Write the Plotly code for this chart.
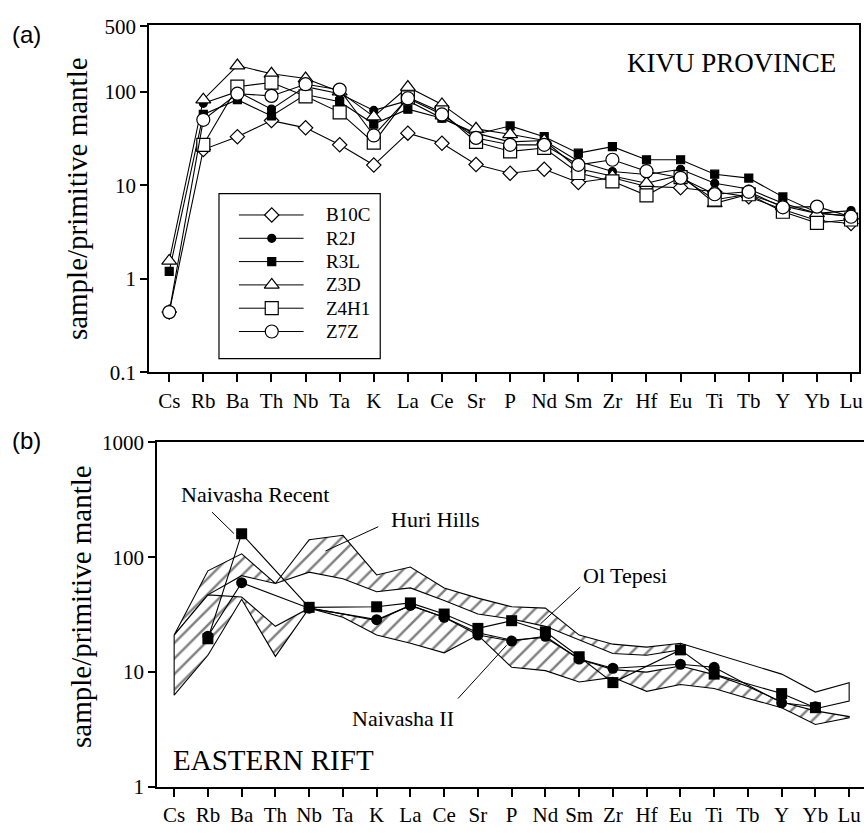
import plotly.graph_objects as go

W, H = 868, 833

elements = ["Cs", "Rb", "Ba", "Th", "Nb", "Ta", "K", "La", "Ce", "Sr", "P",
            "Nd", "Sm", "Zr", "Hf", "Eu", "Ti", "Tb", "Y", "Yb", "Lu"]

# ---- panel (a): Kivu province samples (sample / primitive mantle)
B10C = [0.44, 24, 33, 49, 41, 27, 16.4, 36, 28, 16.6, 13.4, 14.8, 10.7, 12, 9.7, 9.4, 8.5, 7.5, 5.5, 4.2, 3.9]
R2J = [None, 75, 100, 65, 113, 95, 63, 80, 52, 36, 29, 30, 18, 14, 13, 14.8, 10.5, 9.1, 6.4, 5.0, 5.35]
R3L = [1.2, 57, 82, 55, 93, 78, 45, 65, 52, 35, 43, 33, 22, 25.8, 18.7, 18.7, 13.1, 11.9, 7.5, 5.1, 4.6]
Z3D = [1.55, 82, 190, 155, 138, 100, 54, 112, 73, 40, 35, 30, 15, 12.5, 10.5, 12.8, 6.4, 8.0, 6.0, 5.0, 4.7]
Z4H1 = [None, 27, 113, 125, 89, 60, 28.5, 87, 60, 29, 23, 25, 13.5, 11, 7.8, 12.2, 7.0, 8.0, 5.2, 3.95, 4.3]
Z7Z = [0.44, 50, 95, 90, 120, 105, 34, 85, 57, 32, 27, 27, 16.5, 18.7, 14.1, 12, 8.0, 8.5, 5.8, 5.9, 4.6]

series_names = ["B10C", "R2J", "R3L", "Z3D", "Z4H1", "Z7Z"]
series_values = [B10C, R2J, R3L, Z3D, Z4H1, Z7Z]
series_symbols = ["diamond", "circle", "square", "triangle-up", "square", "circle"]
series_fill = ["white", "black", "black", "white", "white", "white"]
series_size = [11, 8, 8, 13, 13, 13]

# ---- panel (b): Eastern Rift
naivasha_recent = [None, 19.5, 160, None, 36.6, None, 37, 40, 32, 24, 28, 22.4, 13.6, 8.1, None, 15.6, 9.6, None, 6.5, 4.9, None]
naivasha_II = [None, 20.5, 60, None, 36, None, 28.6, 38, 30, 21, 18.6, 20.5, 13, 10.8, None, 11.7, 11, None, 5.4, 5.0, None]

huri_upper = [21, 76, 107, 59, 142, 155, 70, 82, 54, 44, 37, 36, 21, 17.5, 16.5, 17.8, None, None, None, None, None]
huri_lower = [21, 47, 69, 59, 74, 65, 50, 54, 42, 32, 29, 25, 19, 14.5, 14, 15.6, None, None, None, None, None]

field2_upper = [21, 47, 45, 25, 36, 32, 28, 38, 30, 22, 19, 20, 13, 10.5, 10, 11.3, 9.5, 7.5, 5.5, 4.6, 4.1]
field2_lower = [6.3, 14, 43, 13.7, 36, 30, 21, 17.8, 14.7, 21, 11, 10.3, 8.2, 9, 6.8, 7.8, 7.2, 5.9, 4.9, 3.5, 4.0]

oltepesi_upper = [None] * 15 + [17.8, 14.5, 11.7, 9.6, 6.7, 8.1]
oltepesi_lower = [None] * 19 + [4.8, 5.6]

SERIF = "Liberation Serif"
SANS = "Liberation Sans"


def px(x):
    return x / W


def py(y):
    return 1 - y / H


fig = go.Figure()

# ---------- panel (a) lines
for name, vals, sym, fc, sz in zip(series_names, series_values, series_symbols, series_fill, series_size):
    fig.add_trace(go.Scatter(
        x=list(range(len(elements))), y=vals, mode="lines+markers", name=name,
        connectgaps=True, showlegend=False,
        line=dict(color="black", width=1.1),
        marker=dict(symbol=sym, size=sz, color=fc, line=dict(color="black", width=1.2)),
        xaxis="x", yaxis="y"))


# ---------- panel (b) fields
def band(upper, lower):
    idx = [i for i, v in enumerate(upper) if v is not None]
    xs = idx + idx[::-1] + [idx[0]]
    ys = [upper[i] for i in idx] + [lower[i] for i in idx[::-1]] + [upper[idx[0]]]
    return xs, ys


hatch = dict(shape="/", size=11, solidity=0.22, fgcolor="black", bgcolor="white")
for up, lo in [(huri_upper, huri_lower), (field2_upper, field2_lower)]:
    xs, ys = band(up, lo)
    fig.add_trace(go.Scatter(
        x=xs, y=ys, mode="lines", fill="toself", fillcolor="white", fillpattern=hatch,
        line=dict(color="black", width=1.1), showlegend=False, hoverinfo="skip",
        xaxis="x2", yaxis="y2"))

ot_idx = [i for i, v in enumerate(oltepesi_upper) if v is not None]
ot_low_idx = [i for i, v in enumerate(oltepesi_lower) if v is not None]
ot_x = ot_idx + ot_low_idx[::-1]
ot_y = [oltepesi_upper[i] for i in ot_idx] + [oltepesi_lower[i] for i in ot_low_idx[::-1]]
fig.add_trace(go.Scatter(x=ot_x, y=ot_y, mode="lines", line=dict(color="black", width=1.1),
                         showlegend=False, xaxis="x2", yaxis="y2"))

for vals, sym in [(naivasha_II, "circle"), (naivasha_recent, "square")]:
    fig.add_trace(go.Scatter(
        x=list(range(len(elements))), y=vals, mode="lines+markers", connectgaps=True,
        line=dict(color="black", width=1.1),
        marker=dict(symbol=sym, size=11, color="black"),
        showlegend=False, xaxis="x2", yaxis="y2"))

# ---------- manual legend (inside panel a)
LX0, LX1, LY0, LY1 = 220, 382, 187, 357
for k, (name, sym, fc, sz) in enumerate(zip(series_names, series_symbols, series_fill, series_size)):
    row = 22 + k * 24
    fig.add_trace(go.Scatter(x=[20, 85], y=[row, row], mode="lines", line=dict(color="black", width=1),
                             showlegend=False, hoverinfo="skip", xaxis="x3", yaxis="y3"))
    fig.add_trace(go.Scatter(x=[53], y=[row], mode="markers",
                             marker=dict(symbol=sym, size=sz, color=fc, line=dict(color="black", width=1.2)),
                             showlegend=False, hoverinfo="skip", xaxis="x3", yaxis="y3"))
    fig.add_annotation(x=105, y=row, xref="x3", yref="y3", text=name, showarrow=False,
                       xanchor="left", yanchor="middle", font=dict(family=SERIF, size=19, color="black"))

axis_common = dict(showgrid=False, zeroline=False, showline=True, linecolor="black",
                   ticks="outside", tickcolor="black", tickwidth=1.5)
tickfont = dict(family=SERIF, size=21, color="black")

fig.update_layout(
    width=W, height=H, margin=dict(l=0, r=0, t=0, b=0),
    paper_bgcolor="white", plot_bgcolor="white", showlegend=False,
    xaxis=dict(domain=[px(150), px(863)], anchor="y", range=[-0.584, 20.234],
               tickvals=list(range(len(elements))), ticktext=elements, ticklen=8,
               linewidth=2, mirror=True, tickfont=tickfont, **axis_common),
    yaxis=dict(domain=[py(371), py(13)], anchor="x", type="log", range=[-1, 2.716],
               tickvals=[0.1, 1, 10, 100, 500], ticktext=["0.1", "1", "10", "100", "500"],
               ticklen=7, linewidth=2, mirror=True, tickfont=tickfont, **axis_common),
    xaxis2=dict(domain=[px(158), 1.0], anchor="y2", range=[-0.5, 20.44],
                tickvals=list(range(len(elements))), ticktext=elements, ticklen=8,
                linewidth=2, mirror=True, tickfont=tickfont, **axis_common),
    yaxis2=dict(domain=[py(798), py(443)], anchor="x2", type="log", range=[0, 3],
                tickvals=[1, 10, 100, 1000], ticktext=["1", "10", "100", "1000"],
                ticklen=7, linewidth=2, mirror=False, tickfont=tickfont, **axis_common),
    xaxis3=dict(domain=[px(LX0), px(LX1)], anchor="y3", range=[0, LX1 - LX0], visible=False),
    yaxis3=dict(domain=[py(LY1), py(LY0)], anchor="x3", range=[LY1 - LY0, 0], visible=False),
)

fig.add_shape(type="rect", xref="paper", yref="paper", x0=px(LX0), x1=px(LX1), y0=py(LY1), y1=py(LY0),
              line=dict(color="black", width=1.2), fillcolor="rgba(0,0,0,0)")

# pointer lines in panel (b)
for (x0, y0, x1, y1) in [(213, 515, 235, 537), (380, 530, 327, 555), (583, 592, 543, 630), (460, 707, 509, 652)]:
    fig.add_shape(type="line", xref="paper", yref="paper", x0=px(x0), y0=py(y0), x1=px(x1), y1=py(y1),
                  line=dict(color="black", width=1))

texts = [
    ("(a)", 27, 23, SANS, 24, "center"),
    ("(b)", 27, 441, SANS, 24, "center"),
    ("KIVU PROVINCE", 842, 53, SERIF, 27, "right"),
    ("EASTERN RIFT", 172, 770, SERIF, 29, "left"),
    ("Naivasha Recent", 256, 497, SERIF, 22, "center"),
    ("Huri Hills", 438, 523, SERIF, 22, "center"),
    ("Ol Tepesi", 628, 580, SERIF, 22, "center"),
    ("Naivasha II", 405, 727, SERIF, 22, "center"),
]
for t, x, y, fam, sz, anc in texts:
    fig.add_annotation(x=px(x), y=py(y), xref="paper", yref="paper", text=t, showarrow=False,
                       xanchor=anc, yanchor="middle", font=dict(family=fam, size=sz, color="black"))

for y in [192, 612]:
    fig.add_annotation(x=px(78 if y == 192 else 82), y=py(y), xref="paper", yref="paper",
                       text="sample/primitive mantle", textangle=-90, showarrow=False,
                       xanchor="center", yanchor="middle", font=dict(family=SERIF, size=29, color="black"))

fig.write_html("out.html")
